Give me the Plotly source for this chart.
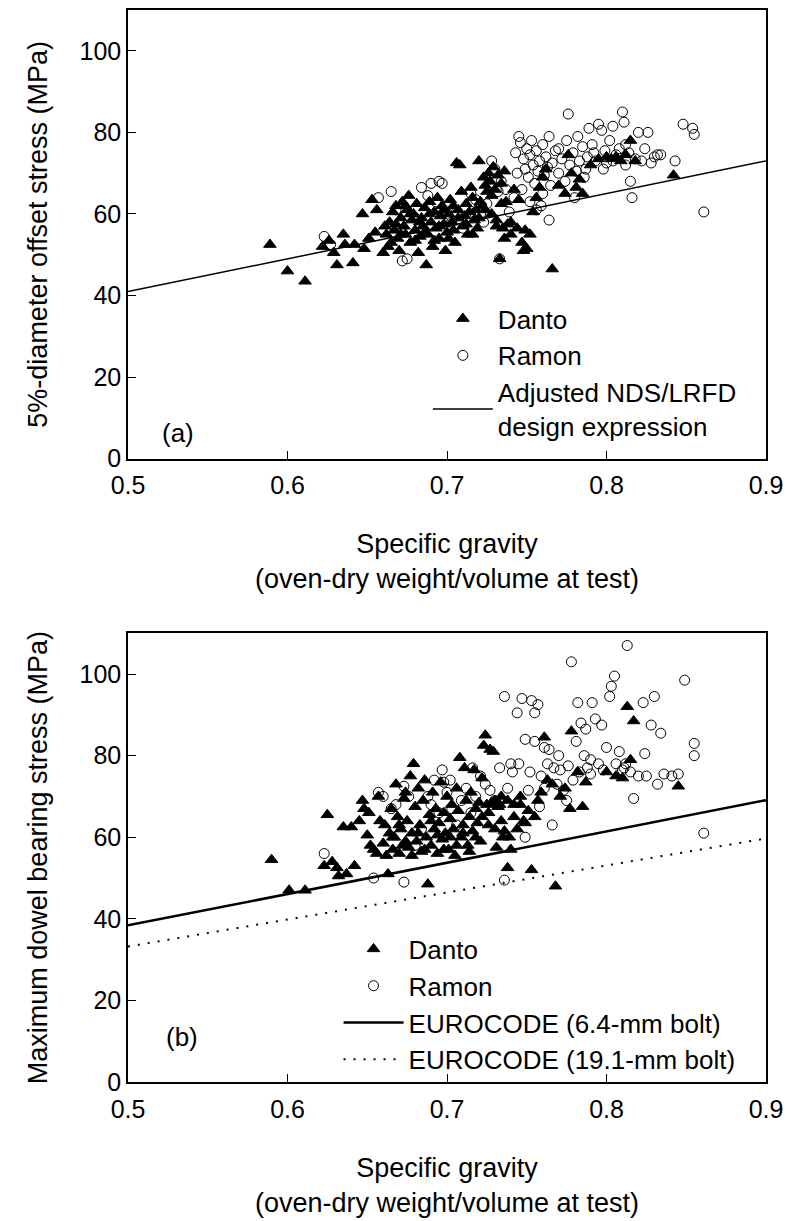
import plotly.graph_objects as go

# ---------------- data: panel (a) ----------------
a_danto_x = [0.589,0.600,0.611,0.622,0.626,0.629,0.631,0.635,0.636,0.641,0.642,0.647,0.648,0.651,0.653,0.656,0.655,0.660,0.661,0.663,0.662,
             0.664,0.666,0.667,0.668,0.669,0.670,0.671,0.672,0.673,0.674,0.675,0.676,0.677,0.678,0.679,0.680,0.681,0.682,0.683,0.684,0.685,0.686,0.687,0.688,0.689,0.690,0.691,0.692,0.693,0.694,0.695,0.696,0.697,0.698,0.699,0.700,0.701,0.702,0.703,0.704,0.705,0.706,0.708,0.707,0.709,0.710,0.711,0.712,0.713,0.714,0.715,0.716,0.717,0.718,0.719,0.720,0.721,0.722,0.723,0.724,0.725,0.726,0.727,0.728,0.729,0.730,0.731,0.732,0.733,0.734,0.735,0.736,0.737,0.738,0.740,0.742,0.745,0.747,0.749,0.750,0.752,0.754,0.756,0.758,0.760,0.762,0.766,0.770,0.774,0.776,0.778,0.781,0.783,0.785,0.790,0.795,0.800,0.803,0.806,0.809,0.812,0.815,0.818,0.842,
             0.665,0.668,0.671,0.674,0.677,0.680,0.683,0.686,0.689,0.692,0.695,0.698,0.701,0.704,0.707,
             0.712,0.716,0.720,0.724,0.728,0.731,0.734,0.736,0.740,0.744,0.748]
a_danto_y = [52.5,46,43.5,52,53.5,50.5,47.5,55,52.5,48,52.5,60,51.5,54,63.5,61,55.5,50.5,57,52,55,
             58,60.5,56,62,54,51,59,63,57,55,61,64.5,53,58.5,60,56,62.5,50.5,54.5,59,57,61.5,47.5,55,63,58,52,60.5,56.5,64,54,59.5,62,57.5,51,55.5,60,63.5,58,56,53,72.5,72,61,65.5,57,59.5,62.5,55,60.5,66.5,64,58.5,61,56.5,73,63,62,69,67,65.5,70,68,64.5,71.5,66,57,69.5,49,67.5,56.5,70.5,63,57.5,58,66,63.5,53,56,51.5,55,60.5,64,66.5,69,71,46.5,67,65,74.5,70,66.5,68.5,65,72,73.5,74,73.5,74,73,74.5,78,73,69.5,
             53,57.5,55,62,60,53.5,58,55.5,60,53.5,57,61,54,62,59,
             57.5,55,59,61,60,58.5,62.5,54,55,56.5,51]

a_ramon_x = [0.623,0.627,0.657,0.665,0.672,0.675,0.668,0.680,0.684,0.688,0.690,0.693,0.695,0.697,0.700,0.703,0.706,0.710,0.712,0.715,0.718,0.721,0.723,0.725,0.728,0.730,0.732,0.733,0.734,0.737,0.739,0.742,0.743,0.745,0.746,0.748,0.749,0.750,0.751,0.752,0.753,0.754,0.755,0.756,0.757,0.758,0.759,0.760,0.761,0.762,0.763,0.764,0.765,0.766,0.768,0.770,0.772,0.774,0.776,0.777,0.779,0.780,0.781,0.783,0.785,0.786,0.788,0.789,0.791,0.793,0.795,0.797,0.799,0.800,0.802,0.804,0.806,0.808,0.810,0.811,0.812,0.814,0.815,0.816,0.818,0.820,0.822,0.824,0.826,0.828,0.830,0.832,0.834,0.843,0.848,0.854,0.855,0.861,
             0.744,0.747,0.752,0.756,0.760,0.764,0.770,0.775,0.782,0.787,0.792,0.798,0.804,0.812]
a_ramon_y = [54.5,52.5,64,65.5,48.5,49,61,59,66.5,64.5,67.5,63,68,67.5,62,58,60.5,56.5,59,65,63.5,60,58,62.5,73,71,65.5,49,68,66,60.5,64,75,79,77.5,73.5,71,76,69,74.5,78,72,67.5,75.5,70.5,73,62,65,69.5,74,71.5,58.5,67,72.5,75.5,70,73.5,68,84.5,72,75,64,70.5,73,76.5,69,74,81,77,73,82,80.5,75.5,72.5,78,81.5,74.5,76,85,82.5,72,75,68,64,73.5,80,73,76,80,72.5,74,74.5,74.5,73,82,81,79.5,60.5,
             70,66,63,61,77,79,76,78,79,71,75,71,73,77]

a_line_x = [0.5, 0.9]
a_line_y = [41.0, 73.0]

# ---------------- data: panel (b) ----------------
b_danto_x = [0.590,0.601,0.611,0.623,0.625,0.628,0.631,0.632,0.635,0.637,0.640,0.642,0.645,0.647,0.648,0.650,0.651,0.652,0.654,0.656,0.657,0.658,0.660,0.661,0.662,0.663,0.664,0.665,0.666,0.667,0.668,0.669,0.670,0.671,0.672,0.673,0.674,0.675,0.676,0.677,0.678,0.679,0.680,0.681,0.682,0.683,0.684,0.685,0.686,0.687,0.688,0.689,0.690,0.691,0.692,0.693,0.694,0.695,0.696,0.697,0.698,0.699,0.700,0.701,0.702,0.703,0.704,0.705,0.706,0.707,0.708,0.709,0.710,0.711,0.712,0.713,0.714,0.715,0.716,0.717,0.718,0.719,0.720,0.721,0.722,0.723,0.724,0.725,0.726,0.727,0.728,0.729,0.730,0.731,0.732,0.733,0.734,0.735,0.736,0.738,0.739,0.740,0.742,0.744,0.746,0.748,0.749,0.751,0.753,0.755,0.757,0.759,0.761,0.763,0.766,0.768,0.771,0.774,0.777,0.778,0.782,0.785,0.787,0.800,0.806,0.810,0.813,0.815,0.817,0.845,
             0.666,0.670,0.674,0.678,0.682,0.686,0.690,0.694,0.698,0.702,0.706,0.710,0.714,0.718,0.722,0.726,0.730,0.734,0.738,0.742,0.746]
b_danto_y = [54.5,47,47,53,65.5,54,52.5,50.5,62.5,51,62.5,53,64,69,67,60.5,66,58,57,56,70,64,58.5,63,55.5,51,61,67,57,60,73,65,56,62,58,69.5,71,64,57.5,75,61,78,67.5,59,72,63,56.5,69,74,60,48.5,65.5,58,71,62,67,56,63.5,73.5,59.5,66,61,70,57,64.5,68,62,55.5,72,66.5,79.5,60,63,77,69,58,65,71,61.5,76.5,67,63.5,68.5,59,74.5,82.5,85,68,66,81.5,68.5,81,69,57.5,67.5,68,64,60,61.5,52.5,60,57,65,62,70,64,63.5,66.5,52,65,69,71,84.5,74,73,48,70,72,67,86,76,67.5,73.5,76,75,74.5,92,79,88.5,72.5,
             60,63,59,55.5,61,57,64,60.5,57,60,58,61,56.5,60,65,63,62,70,69,68,68]

b_ramon_x = [0.623,0.654,0.657,0.665,0.668,0.673,0.673,0.680,0.684,0.688,0.692,0.695,0.697,0.698,0.700,0.703,0.706,0.709,0.712,0.715,0.718,0.721,0.724,0.727,0.730,0.733,0.736,0.736,0.738,0.741,0.744,0.745,0.747,0.749,0.749,0.751,0.753,0.755,0.755,0.757,0.758,0.759,0.761,0.761,0.763,0.764,0.766,0.767,0.769,0.771,0.773,0.775,0.776,0.778,0.779,0.781,0.782,0.783,0.784,0.786,0.787,0.788,0.790,0.791,0.793,0.795,0.797,0.798,0.800,0.802,0.803,0.805,0.806,0.808,0.810,0.811,0.813,0.815,0.817,0.820,0.823,0.824,0.825,0.828,0.830,0.832,0.834,0.836,0.841,0.845,0.849,0.855,0.855,0.861,
             0.660,0.676,0.690,0.702,0.716,0.740,0.752,0.770,0.790,0.812]
b_ramon_y = [56,50,71,67,68,49,72.5,58,62,70,74,66,76.5,73.5,71,67,63,69,72,66,70,75,73,71.5,69,77,94.5,49.5,72,76,90.5,78,94,60,84,71.5,93.5,90.5,83.5,92.5,67.5,75,82,72,78,81.5,63,77,73,76.5,71.5,69,77.5,103,74,83.5,93,76,88,80,86.5,77,75.5,93,89,78,87.5,76.5,82,94.5,97,99.5,78,81,76.5,77,107,76,69.5,75,93,80.5,75,87.5,94.5,73,85.5,75.5,75,75.5,98.5,83,80,61,
             70,70,68,74,77,78,76,80,79,78]

b_line1_x = [0.5, 0.9]
b_line1_y = [38.4, 69.1]
b_line2_x = [0.5, 0.9]
b_line2_y = [33.2, 59.7]

x_ticks = [0.5, 0.6, 0.7, 0.8, 0.9]
x_tick_text = ["0.5", "0.6", "0.7", "0.8", "0.9"]
y_ticks = [0, 20, 40, 60, 80, 100]

FONT = "Liberation Sans, Arial, sans-serif"
tri = dict(symbol="triangle-up", size=11, color="black", line=dict(color="black", width=1))
circ = dict(symbol="circle-open", size=10, color="black", line=dict(color="black", width=1))

fig = go.Figure()
# panel (a)
fig.add_trace(go.Scatter(x=a_danto_x, y=a_danto_y, mode="markers", marker=tri, name="Danto",
                         xaxis="x", yaxis="y", legend="legend"))
fig.add_trace(go.Scatter(x=a_ramon_x, y=a_ramon_y, mode="markers", marker=circ, name="Ramon",
                         xaxis="x", yaxis="y", legend="legend"))
fig.add_trace(go.Scatter(x=a_line_x, y=a_line_y, mode="lines", line=dict(color="black", width=1.5),
                         name="Adjusted NDS/LRFD<br>design expression", xaxis="x", yaxis="y", legend="legend"))
# panel (b)
fig.add_trace(go.Scatter(x=b_danto_x, y=b_danto_y, mode="markers", marker=tri, name="Danto",
                         xaxis="x2", yaxis="y2", legend="legend2"))
fig.add_trace(go.Scatter(x=b_ramon_x, y=b_ramon_y, mode="markers", marker=circ, name="Ramon",
                         xaxis="x2", yaxis="y2", legend="legend2"))
fig.add_trace(go.Scatter(x=b_line1_x, y=b_line1_y, mode="lines", line=dict(color="black", width=2.5),
                         name="EUROCODE (6.4-mm bolt)", xaxis="x2", yaxis="y2", legend="legend2"))
fig.add_trace(go.Scatter(x=b_line2_x, y=b_line2_y, mode="lines", line=dict(color="black", width=2, dash="2px,8px"),
                         name="EUROCODE (19.1-mm bolt)", xaxis="x2", yaxis="y2", legend="legend2"))

axis_common = dict(showline=True, linecolor="black", linewidth=1.5, mirror=True, ticks="inside",
                   ticklen=8, tickwidth=1.2, tickcolor="black", showgrid=False, zeroline=False,
                   tickfont=dict(family=FONT, size=25, color="black"))
xcommon = dict(axis_common, range=[0.5, 0.9], tickvals=x_ticks, ticktext=x_tick_text, ticklabelstandoff=4,
               title=dict(text="Specific gravity<br>(oven-dry weight/volume at test)",
                          font=dict(family=FONT, size=27, color="black"), standoff=36))
ytitle_font = dict(family=FONT, size=27, color="black")

fig.update_layout(
    width=798, height=1221,
    margin=dict(l=128, r=32, t=8, b=138),
    paper_bgcolor="white", plot_bgcolor="white",
    font=dict(family=FONT, color="black"),
    xaxis=dict(xcommon, domain=[0, 1], anchor="y"),
    yaxis=dict(axis_common, domain=[0.5814, 1], range=[0, 110], tickvals=y_ticks, anchor="x",
               title=dict(text="5%-diameter offset stress (MPa)", font=ytitle_font, standoff=24)),
    xaxis2=dict(xcommon, domain=[0, 1], anchor="y2"),
    yaxis2=dict(axis_common, domain=[0, 0.4186], range=[0, 110], tickvals=y_ticks, anchor="x2",
                title=dict(text="Maximum dowel bearing stress (MPa)", font=ytitle_font, standoff=24)),
    legend=dict(x=0.47, y=0.734, xanchor="left", yanchor="top", bgcolor="rgba(0,0,0,0)",
                font=dict(family=FONT, size=26, color="black"), itemwidth=60, tracegroupgap=0),
    legend2=dict(x=0.33, y=0.146, xanchor="left", yanchor="top", bgcolor="rgba(0,0,0,0)",
                 font=dict(family=FONT, size=26, color="black"), itemwidth=60, tracegroupgap=0),
    showlegend=True,
    annotations=[
        dict(text="(a)", x=0.05, y=0.6056, xref="paper", yref="paper", showarrow=False,
             font=dict(family=FONT, size=26, color="black")),
        dict(text="(b)", x=0.056, y=0.026, xref="paper", yref="paper", showarrow=False,
             font=dict(family=FONT, size=26, color="black")),
    ],
)

fig.write_html("out.html")
